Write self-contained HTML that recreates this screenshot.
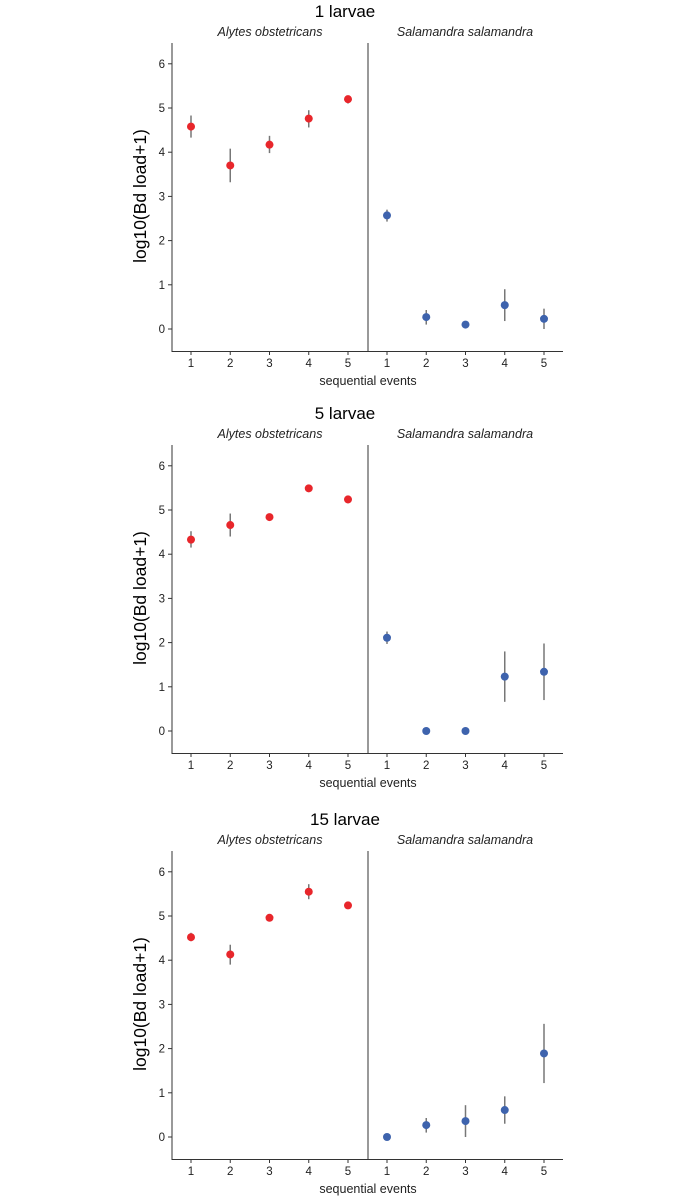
<!DOCTYPE html>
<html><head><meta charset="utf-8"><style>
body{margin:0;background:#fff;width:691px;height:1200px;overflow:hidden}
svg{display:block;font-family:"Liberation Sans",Arial,sans-serif}
</style></head><body>
<svg id="chart" width="691" height="1200" xmlns="http://www.w3.org/2000/svg"></svg>
<script>
const panelTitles=["1 larvae","5 larvae","15 larvae"];
const species=["Alytes obstetricans","Salamandra salamandra"];
const events=[1,2,3,4,5];
const yTicks=[0,1,2,3,4,5,6];
const alytesMean=[[4.58,3.70,4.17,4.76,5.20],[4.33,4.66,4.84,5.49,5.24],[4.52,4.13,4.96,5.55,5.24]];
const alytesLo=[[4.33,3.32,3.98,4.56,5.10],[4.15,4.40,4.76,5.44,5.15],[4.43,3.90,4.90,5.38,5.20]];
const alytesHi=[[4.83,4.08,4.37,4.95,5.28],[4.52,4.92,4.92,5.54,5.32],[4.62,4.35,5.02,5.72,5.28]];
const salMean=[[2.57,0.27,0.10,0.54,0.23],[2.11,0,0,1.23,1.34],[0,0.27,0.36,0.61,1.89]];
const salLo=[[2.43,0.10,0.05,0.18,0.00],[1.97,0,0,0.66,0.70],[0,0.10,0.00,0.30,1.22]];
const salHi=[[2.70,0.43,0.15,0.90,0.46],[2.25,0,0,1.80,1.98],[0,0.43,0.72,0.92,2.56]];

const svg=document.getElementById('chart');
const NS="http://www.w3.org/2000/svg";
function mk(tag,attrs,parent){const e=document.createElementNS(NS,tag);for(const k in attrs)e.setAttribute(k,attrs[k]);(parent||svg).appendChild(e);return e;}
const offsets=[0,402,808];
const L=172,D=368,R=563;
const facetX=[[191,348],[387,544]];
panelTitles.forEach((t,p)=>{
  const o=offsets[p];
  const y=v=>o+329-v*44.2;
  const g=mk('g',{});
  
  
  let e=mk('text',{x:345,y:o+17,'text-anchor':'middle','font-size':17,fill:'#000'},g);e.textContent=t;
  
  species.forEach((s,i)=>{
    e=mk('text',{x:i?465:270,y:o+36,'text-anchor':'middle','font-size':12.5,'font-style':'italic',fill:'#222'},g);e.textContent=s;
    
  });
  mk('line',{x1:L,y1:o+43,x2:L,y2:o+352,stroke:'#333','stroke-width':1},g);
  mk('line',{x1:L,y1:o+351.5,x2:R,y2:o+351.5,stroke:'#333','stroke-width':1},g);
  mk('line',{x1:D,y1:o+43,x2:D,y2:o+352,stroke:'#333','stroke-width':1},g);
  yTicks.forEach(v=>{
    mk('line',{x1:L-4,y1:y(v),x2:L,y2:y(v),stroke:'#333'},g);
    e=mk('text',{x:L-7,y:y(v)+4,'text-anchor':'end','font-size':11.5,fill:'#222'},g);e.textContent=v;
    
  });
  e=mk('text',{x:0,y:0,transform:`translate(146,${o+196}) rotate(-90)`,'text-anchor':'middle','font-size':17.5,fill:'#000'},g);e.textContent='log10(Bd load+1)';
  
  e=mk('text',{x:368,y:o+385,'text-anchor':'middle','font-size':12.5,fill:'#222'},g);e.textContent='sequential events';
  
  const sets=[[alytesMean,alytesLo,alytesHi,'#e8262b'],[salMean,salLo,salHi,'#3e63ad']];
  sets.forEach((st,f)=>{
    const [x0,x1]=facetX[f];
    const x=k=>x0+(k-1)*(x1-x0)/4;
    events.forEach((ev,k)=>{
      mk('line',{x1:x(ev),y1:o+351,x2:x(ev),y2:o+355,stroke:'#333'},g);
      e=mk('text',{x:x(ev),y:o+367,'text-anchor':'middle','font-size':11.5,fill:'#222'},g);e.textContent=ev;
      
      const eb=mk('line',{x1:x(ev),y1:y(st[1][p][k]),x2:x(ev),y2:y(st[2][p][k]),stroke:'#777','stroke-width':1.5},g);
      
      const c=mk('circle',{cx:x(ev),cy:y(st[0][p][k]),r:4,fill:st[3]},g);
      
    });
  });
});
</script>
</body></html>
